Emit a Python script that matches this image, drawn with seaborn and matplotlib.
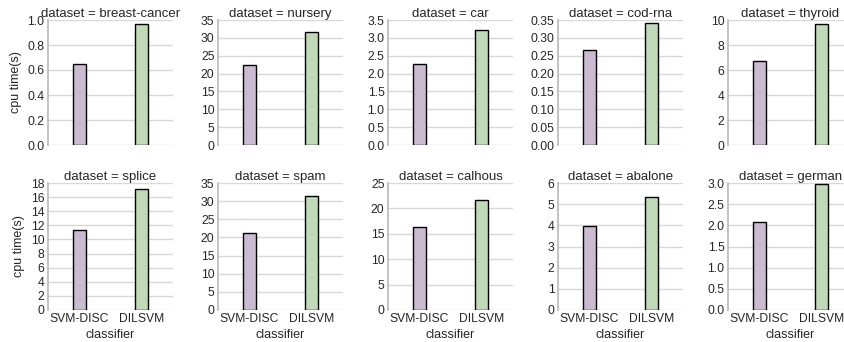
import matplotlib
matplotlib.use("Agg")
import matplotlib.pyplot as plt
import seaborn as sns
import pandas as pd
import numpy as np

datasets = ["breast-cancer", "nursery", "car", "cod-rna", "thyroid",
            "splice", "spam", "calhous", "abalone", "german"]
classifiers = ["SVM-DISC", "DILSVM"]
svm_disc = [0.65, 22.5, 2.27, 0.265, 6.7, 11.4, 21.3, 16.4, 3.95, 2.07]
dilsvm = [0.965, 31.6, 3.22, 0.343, 9.7, 17.1, 31.4, 21.7, 5.35, 2.98]
ymax = [1.0, 35, 3.5, 0.35, 10, 18, 35, 25, 6, 3.0]
ystep = [0.2, 5, 0.5, 0.05, 2, 2, 5, 5, 1, 0.5]
yfmt = ["{:.1f}", "{:.0f}", "{:.1f}", "{:.2f}", "{:.0f}",
        "{:.0f}", "{:.0f}", "{:.0f}", "{:.0f}", "{:.1f}"]
colors = ["#cbb7d5", "#bcdeb4"]

rows = []
for d, a, b in zip(datasets, svm_disc, dilsvm):
    rows.append({"dataset": d, "classifier": classifiers[0], "time": a})
    rows.append({"dataset": d, "classifier": classifiers[1], "time": b})
df = pd.DataFrame(rows)

sns.set_theme(style="whitegrid")
plt.rcParams["font.family"] = ["Liberation Sans", "DejaVu Sans"]
plt.rcParams["axes.edgecolor"] = "#bbbbbb"
plt.rcParams["grid.color"] = "#d8d8d8"

g = sns.catplot(data=df, x="classifier", y="time", hue="classifier",
                col="dataset", col_wrap=5, kind="bar", sharey=False,
                palette=colors, width=0.21, edgecolor="black", linewidth=1,
                legend=False, height=3, aspect=1, col_order=datasets,
                order=classifiers)
g.set_titles("dataset = {col_name}")
g.set_axis_labels("classifier", "cpu time(s)", size=9)
fig = g.figure
fig.set_size_inches(8.44, 3.42)
fig.set_dpi(100)

lefts = [48, 218, 388, 558, 728]
w = 125
W, H = 844, 342
tops = [20, 183]
hs = [125, 127]
for i, ax in enumerate(g.axes.flat):
    r, c = divmod(i, 5)
    ax.set_position([lefts[c] / W, 1 - (tops[r] + hs[r]) / H, w / W, hs[r] / H])
    ax.set_xlim(-0.5, 1.5)
    ax.set_ylim(0, ymax[i])
    ticks = np.arange(0, ymax[i] + ystep[i] / 2, ystep[i])
    ax.set_yticks(ticks)
    ax.set_yticklabels([yfmt[i].format(t) for t in ticks])
    ax.tick_params(axis="both", labelsize=8.7, pad=2.5, length=0)
    ax.grid(axis="x", visible=False)
    for s in ["top", "right", "bottom"]:
        ax.spines[s].set_visible(False)
    ax.spines["left"].set_visible(True)
    ax.set_title(ax.get_title(), size=9.5, pad=2)
    if r == 0:
        ax.set_xlabel("")
    else:
        ax.xaxis.labelpad = 2.5

fig.savefig("out.png", dpi=100)
